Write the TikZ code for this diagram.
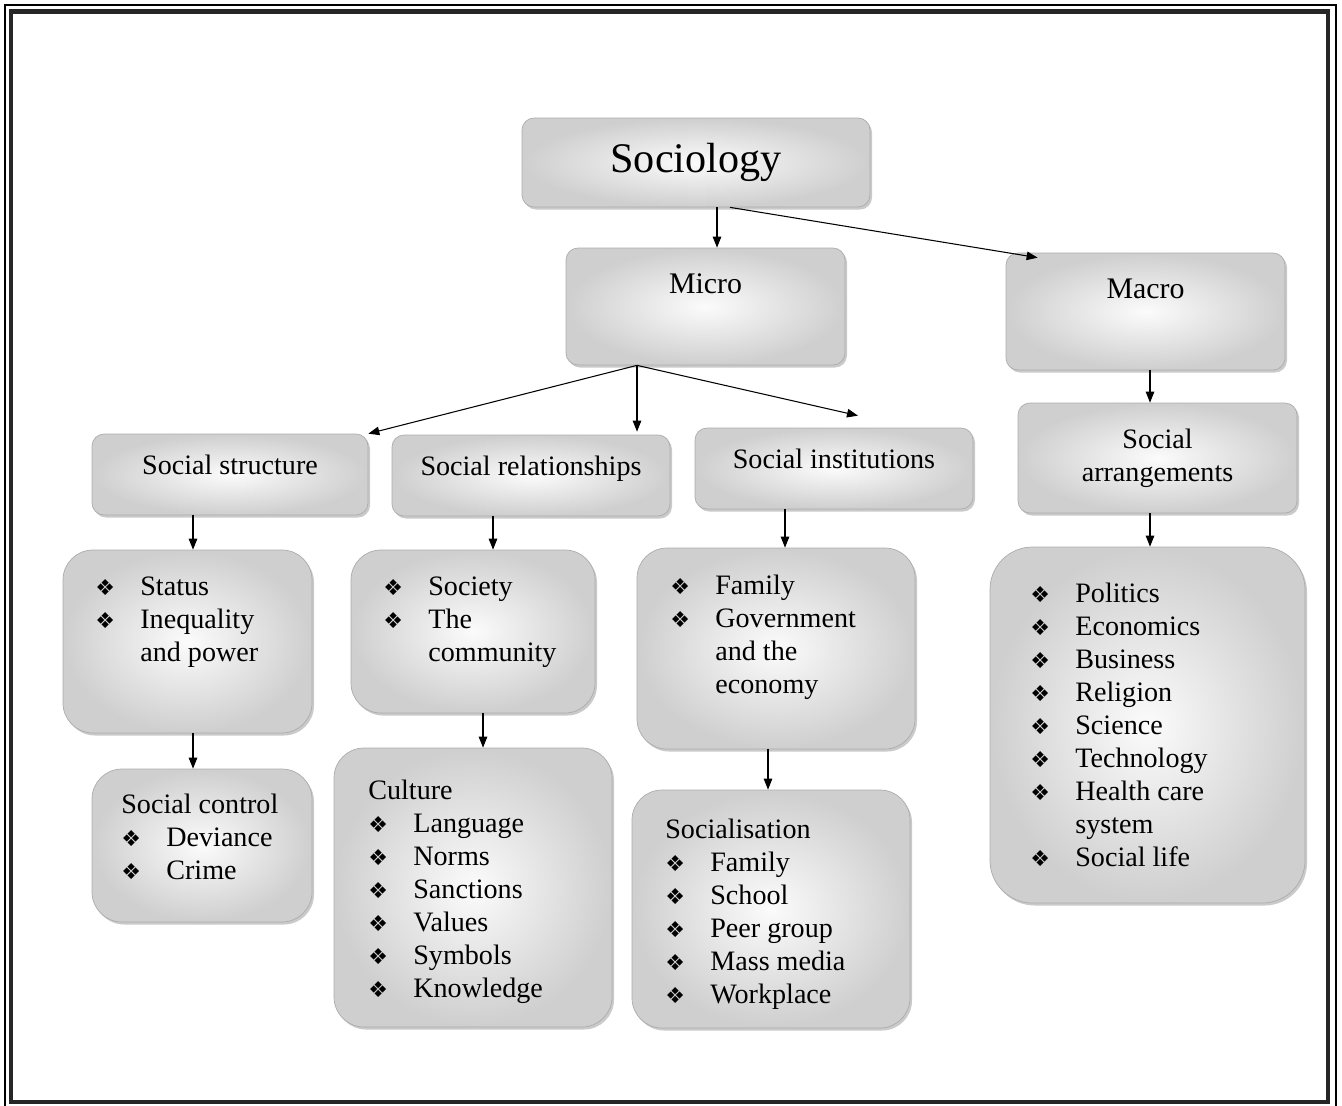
\documentclass[tikz,border=0pt]{standalone}
\usepackage{fontspec}
\setmainfont{Liberation Serif}
\newfontfamily\symfont{DejaVu Sans}
\usepackage{tikz}
\usetikzlibrary{positioning,arrows.meta,shadows}

\newcommand\bul{\makebox[0.9cm][l]{\symfont\fontsize{12.5}{12}\selectfont ❖}}
\newcommand\cnt{\hspace*{0.9cm}}

\tikzset{
  box/.style={draw=gray!65, rounded corners=0.24cm, shading=radial, inner color=gray!3, outer color=gray!38, drop shadow={shadow xshift=0.04cm, shadow yshift=-0.05cm, fill=gray!70, opacity=0.6}, font=\fontsize{16}{18.8}\selectfont, align=center},
  listbox/.style={box, rounded corners=0.6cm},
  head/.style={box, minimum width=5.56cm, minimum height=1.62cm, text height=0.4cm, text depth=0.4cm},
  listtxt/.style={anchor=base west, align=left, inner sep=0pt, font=\fontsize{16}{18.8}\selectfont},
  arr/.style={-{Triangle[length=0.22cm,width=0.17cm]}, line width=0.6pt}
}

\begin{document}
\begin{tikzpicture}
\useasboundingbox (0,0) rectangle (26.84,-22.1);
\draw[line width=0.6pt] (0.1,-0.1) rectangle (26.72,-22.3);
\draw[line width=0.09cm, black!85] (0.22,-0.23) rectangle (26.56,-22.04);

\node[box, minimum width=6.96cm, minimum height=1.78cm, font=\fontsize{24}{28}\selectfont] (soc) at (13.92,-3.25) {Sociology};
\node[box, minimum width=5.58cm, minimum height=2.34cm, font=\fontsize{17}{20}\selectfont, text height=0.45cm, text depth=0.97cm] (micro) at (14.11,-6.13) {Micro};
\node[box, minimum width=5.58cm, minimum height=2.34cm, font=\fontsize{17}{20}\selectfont, text height=0.45cm, text depth=0.97cm] (macro) at (22.91,-6.23) {Macro};

\node[head, minimum width=5.52cm] (sstruct) at (4.6,-9.49) {Social structure};
\node[head] (srel) at (10.62,-9.51) {Social relationships};
\node[head] (sinst) at (16.68,-9.37) {Social institutions};
\node[box, minimum width=5.58cm, minimum height=2.2cm] (sarr) at (23.15,-9.16) {Social\\arrangements};

\node[listbox, minimum width=4.98cm, minimum height=3.66cm] (status) at (3.75,-12.83) {};
\node[listbox, minimum width=4.88cm, minimum height=3.26cm] (society) at (9.46,-12.63) {};
\node[listbox, minimum width=5.56cm, minimum height=4.02cm] (family) at (15.52,-12.97) {};
\node[listbox, rounded corners=0.85cm, minimum width=6.3cm, minimum height=7.12cm] (politics) at (22.95,-14.5) {};
\node[listbox, minimum width=4.4cm, minimum height=3.06cm] (sctrl) at (4.04,-16.91) {};
\node[listbox, minimum width=5.56cm, minimum height=5.58cm] (culture) at (9.46,-17.75) {};
\node[listbox, minimum width=5.56cm, minimum height=4.76cm] (socz) at (15.42,-18.18) {};

\node[listtxt] (statustxt) at (1.9,-13.23) {\bul Status\\ \bul Inequality\\ \cnt and power};
\node[listtxt] (societytxt) at (7.66,-13.23) {\bul Society\\ \bul The\\ \cnt community};
\node[listtxt] (familytxt) at (13.4,-13.87) {\bul Family\\ \bul Government\\ \cnt and the\\ \cnt economy};
\node[listtxt] (politicstxt) at (20.6,-17.33) {\bul Politics\\ \bul Economics\\ \bul Business\\ \bul Religion\\ \bul Science\\ \bul Technology\\ \bul Health care\\ \cnt system\\ \bul Social life};
\node[listtxt] (sctrltxt) at (2.42,-17.59) {Social control\\ \bul Deviance\\ \bul Crime};
\node[listtxt] (culturetxt) at (7.36,-19.95) {Culture\\ \bul Language\\ \bul Norms\\ \bul Sanctions\\ \bul Values\\ \bul Symbols\\ \bul Knowledge};
\node[listtxt] (socztxt) at (13.3,-20.07) {Socialisation\\ \bul Family\\ \bul School\\ \bul Peer group\\ \bul Mass media\\ \bul Workplace};

\draw[arr] ([xshift=0.42cm]soc.south) -- ([xshift=0.42cm]soc.south |- micro.north);
\draw[arr] ([xshift=0.68cm]soc.south) -- ([xshift=0.64cm,yshift=-0.1cm]macro.north west);
\coordinate (mb) at ([xshift=-1.37cm]micro.south);
\draw[arr] (mb) -- (sstruct.north east);
\draw[arr] (mb) -- ([yshift=0.06cm]mb |- srel.north);
\draw[arr] (mb) -- ([xshift=0.48cm,yshift=0.24cm]sinst.north);
\draw[arr] ([xshift=0.09cm]macro.south) -- ([xshift=0.09cm]macro.south |- sarr.north);
\draw[arr] ([xshift=-0.74cm]sstruct.south) -- ([xshift=-0.74cm]sstruct.south |- status.north);
\draw[arr] ([xshift=-0.76cm]srel.south) -- ([xshift=-0.76cm]srel.south |- society.north);
\draw[arr] ([xshift=-0.98cm]sinst.south) -- ([xshift=-0.98cm]sinst.south |- family.north);
\draw[arr] ([xshift=-0.15cm]sarr.south) -- ([xshift=-0.15cm]sarr.south |- politics.north);
\draw[arr] ([xshift=0.11cm]status.south) -- ([xshift=0.11cm]status.south |- sctrl.north);
\draw[arr] ([xshift=0.2cm]society.south) -- ([xshift=0.2cm]society.south |- culture.north);
\draw[arr] ([xshift=-0.16cm]family.south) -- ([xshift=-0.16cm]family.south |- socz.north);
\end{tikzpicture}
\end{document}
